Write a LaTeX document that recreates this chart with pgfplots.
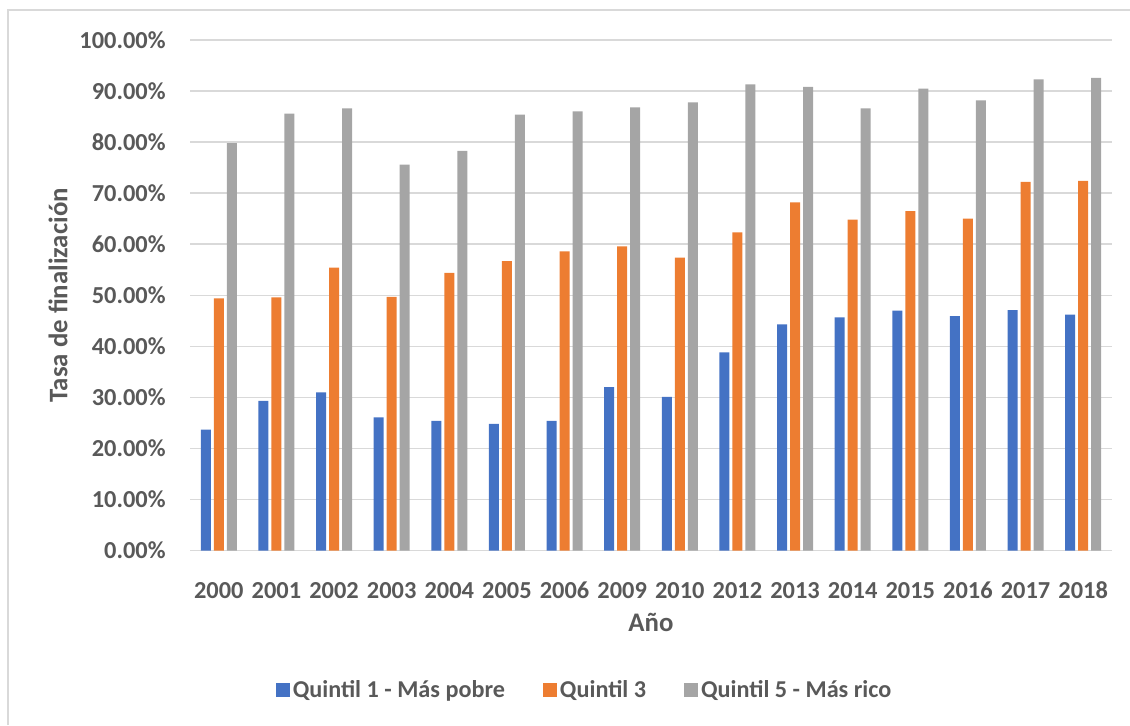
\documentclass[border=0pt]{standalone}
\usepackage{fontspec}
\setmainfont{Carlito}
\usepackage{pgfplots}
\pgfplotsset{compat=1.18}
\definecolor{qblue}{HTML}{4472C4}
\definecolor{qorange}{HTML}{ED7D31}
\definecolor{qgray}{HTML}{A5A5A5}
\definecolor{gridc}{HTML}{D9D9D9}
\definecolor{txt}{HTML}{595959}
\newcommand{\cf}{\fontsize{12.2}{14}\selectfont\bfseries\color{txt}}
\newcommand{\lf}{\fontsize{12.1}{14}\selectfont\bfseries\color{txt}}
\newcommand{\tf}{\fontsize{13.4}{16}\selectfont\bfseries\color{txt}}
\begin{document}
\begin{tikzpicture}[x=1pt,y=1pt]
\useasboundingbox (0,0) rectangle (565,362.5);
\draw[gridc, line width=0.75pt] (4,0) -- (4,357.5) -- (566,357.5);
\begin{axis}[
  at={(95pt,87.2pt)}, anchor=south west, scale only axis,
  width=461pt, height=255.3pt,
  xmin=-0.5, xmax=15.5, ymin=0, ymax=100,
  ybar=1.5pt, bar width=5pt,
  axis x line*=bottom, axis y line*=left,
  x axis line style={gridc, line width=0.75pt},
  y axis line style={draw=none},
  tick style={draw=none},
  ymajorgrids, grid style={gridc, line width=0.75pt},
  xtick={0,...,15},
  xticklabels={2000,2001,2002,2003,2004,2005,2006,2009,2010,2012,2013,2014,2015,2016,2017,2018},
  ytick={0,10,...,100},
  yticklabels={0.00\%,10.00\%,20.00\%,30.00\%,40.00\%,50.00\%,60.00\%,70.00\%,80.00\%,90.00\%,100.00\%},
  tick label style={font=\cf, inner sep=0pt},
  yticklabel style={xshift=-12pt},
  xticklabel style={anchor=base, yshift=-19.7pt},
  xlabel={Año}, ylabel={Tasa de finalización},
  label style={font=\tf},
  xlabel style={at={(rel axis cs:0.5,-0.1398)}, anchor=center},
  ylabel style={at={(rel axis cs:-0.1432,0.5)}, anchor=center},
  legend columns=3,
  legend style={at={(rel axis cs:0.4285,-0.273)}, anchor=center, draw=none, fill=none,
    inner sep=0pt, font=\lf, cells={anchor=west}, nodes={inner sep=1.5pt},
    /tikz/every even column/.append style={column sep=17.5pt}},
  every axis plot post/.append style={legend image code/.code={\fill[##1] (0pt,-3.5pt) rectangle (7pt,3.5pt);}},
]
\addplot[fill=qblue, draw=none] coordinates {
(0,23.7) (1,29.3) (2,31.0) (3,26.1) (4,25.4) (5,24.8) (6,25.4) (7,32.0)
(8,30.1) (9,38.8) (10,44.3) (11,45.7) (12,47.0) (13,45.9) (14,47.1) (15,46.2)};
\addplot[fill=qorange, draw=none] coordinates {
(0,49.4) (1,49.6) (2,55.4) (3,49.7) (4,54.4) (5,56.7) (6,58.6) (7,59.6)
(8,57.4) (9,62.3) (10,68.2) (11,64.8) (12,66.5) (13,65.0) (14,72.2) (15,72.4)};
\addplot[fill=qgray, draw=none] coordinates {
(0,79.8) (1,85.6) (2,86.6) (3,75.6) (4,78.3) (5,85.4) (6,86.0) (7,86.8)
(8,87.8) (9,91.3) (10,90.8) (11,86.6) (12,90.5) (13,88.2) (14,92.3) (15,92.6)};
\legend{Quintil 1 - Más pobre, Quintil 3, Quintil 5 - Más rico}
\end{axis}
\end{tikzpicture}
\end{document}
